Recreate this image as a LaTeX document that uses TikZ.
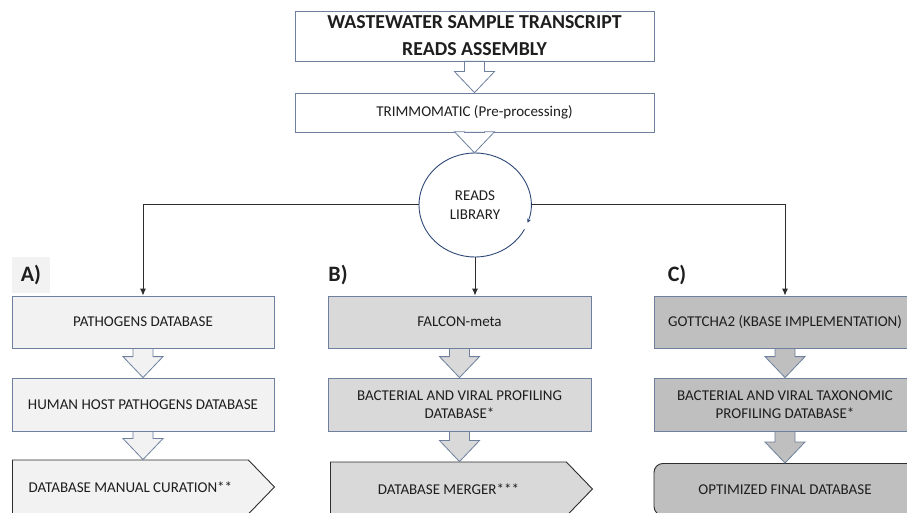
\documentclass[tikz,border=0pt]{standalone}
\usepackage{fontspec}
\setmainfont{Carlito}
\usetikzlibrary{calc,arrows.meta,shapes.symbols,shapes.geometric}
\definecolor{bord}{RGB}{110,128,158}
\definecolor{fa}{RGB}{242,242,242}
\definecolor{fb}{RGB}{217,217,217}
\definecolor{fc}{RGB}{191,191,191}
\definecolor{circ}{RGB}{47,72,120}
\definecolor{txt}{RGB}{30,30,30}
\definecolor{dark}{RGB}{45,45,45}
\newcommand\blockarrow[3]{%
 \draw[bord, line width=0.8pt, fill=#1, line join=miter] let \p1=(#2.south), \p2=(#3.north) in
 (\x1-10pt,\y1) -- (\x1-10pt,\y2+21pt) -- (\x1-20pt,\y2+21pt) -- (\x1,\y2)
 -- (\x1+20pt,\y2+21pt) -- (\x1+10pt,\y2+21pt) -- (\x1+10pt,\y1) -- cycle;}
\begin{document}
\begin{tikzpicture}[x=1pt,y=-1pt,
  box/.style={draw=bord, line width=0.8pt, minimum width=262pt, minimum height=52pt,
    align=center, font=\fontsize{15}{17.5}\selectfont, text=txt, inner sep=2pt},
  sig/.style={shape=signal, signal to=east, signal pointer angle=92, draw=dark,
    line width=0.9pt, minimum width=262pt, minimum height=54pt, anchor=west,
    font=\fontsize{15}{17.5}\selectfont, text=txt, inner sep=2pt},
  lbl/.style={font=\bfseries\fontsize{22}{26}\selectfont, text=txt, inner sep=0pt},
  conn/.style={draw=dark, line width=1pt, -{Latex[length=7pt,width=6pt]}}]
\fill[white] (0,0) rectangle (907,513);
\useasboundingbox (0,0) rectangle (907,513);
\clip (0,0) rectangle (907,513);

% top
\node[box, minimum width=359pt, minimum height=50pt,
  font=\bfseries\fontsize{19.8}{27}\selectfont] (title) at (474.5,36)
  {WASTEWATER SAMPLE TRANSCRIPT\\READS ASSEMBLY};
\node[box, minimum width=359pt, minimum height=39pt] (trim) at (474.5,112.5)
  {TRIMMOMATIC (Pre-processing)};
\node[ellipse, minimum width=112pt, minimum height=104pt, align=center,
  font=\fontsize{15}{19}\selectfont, text=txt, inner sep=0pt] (lib) at (475,205)
  {READS\\LIBRARY};
\draw[circ, line width=0.9pt, -{Stealth[length=4pt,width=4pt]}]
  ($(lib.center)+(-28:56pt and 52pt)$) arc[start angle=-28, end angle=-380,
  x radius=56pt, y radius=52pt];

% column A
\node[fill=fa, minimum width=38pt, minimum height=36pt, inner sep=0pt] (abg) at (31,275) {};
\node[lbl] (la) at (31,275) {A)};
\node[box, fill=fa] (pat) at (143,322) {PATHOGENS DATABASE};
\node[box, fill=fa, minimum height=53pt] (hum) at (143,404.5) {HUMAN HOST PATHOGENS DATABASE};
\node[sig, fill=fa] (cur) at (12,487) {DATABASE MANUAL CURATION**};

% column B
\node[lbl] (lb) at (338,275) {B)};
\node[box, fill=fb, minimum width=263pt] (fal) at (459.5,322) {FALCON-meta};
\node[box, fill=fb, minimum width=263pt, minimum height=53pt] (bvp) at (459.5,404.5)
  {BACTERIAL AND VIRAL PROFILING\\DATABASE*};
\node[sig, fill=fb] (mer) at (330,489) {DATABASE MERGER***};

% column C
\node[lbl] (lc) at (677,275) {C)};
\node[box, fill=fc] (got) at (785,322) {GOTTCHA2 (KBASE IMPLEMENTATION)};
\node[box, fill=fc, minimum height=53pt] (bvt) at (785,404.5)
  {BACTERIAL AND VIRAL TAXONOMIC\\PROFILING DATABASE*};
\node[box, fill=fc, draw=dark, line width=0.9pt, rounded corners=9pt, anchor=north] (opt)
  at (785,463) {OPTIMIZED FINAL DATABASE};

% connectors
\draw[conn] (lib.west) -| (pat.north);
\draw[conn] (lib.east) -| (got.north);
\draw[conn] (lib.south) -- (lib.south |- fal.north);

\blockarrow{white}{title}{trim}
\blockarrow{white}{trim}{lib}
\blockarrow{fa}{pat}{hum}
\blockarrow{fa}{hum}{cur}
\blockarrow{fb}{fal}{bvp}
\blockarrow{fb}{bvp}{mer}
\blockarrow{fc}{got}{bvt}
\blockarrow{fc}{bvt}{opt}
\end{tikzpicture}
\end{document}
